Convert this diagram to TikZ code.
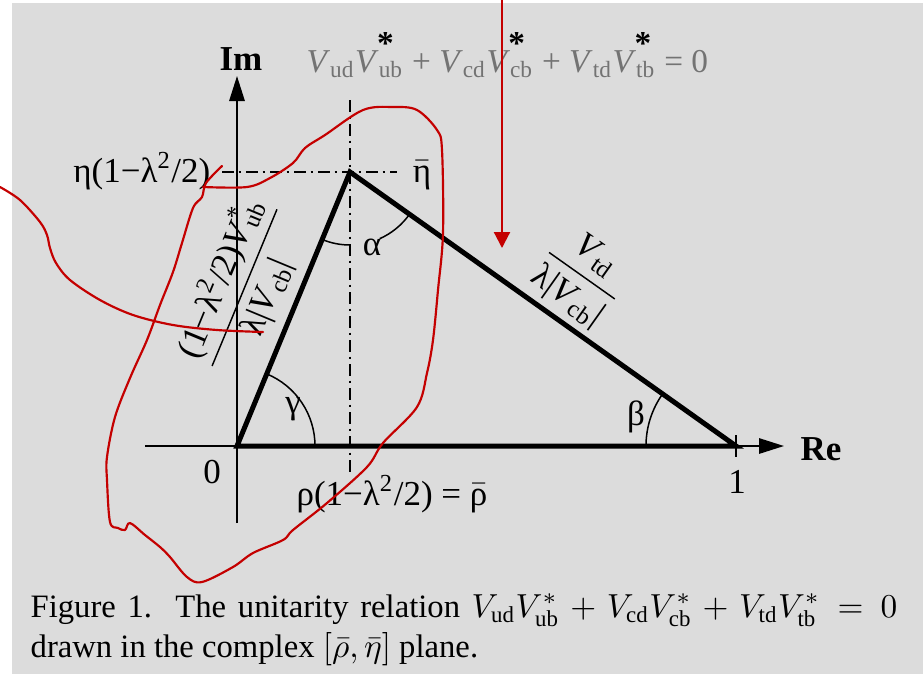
\documentclass[tikz,border=0pt]{standalone}
\usepackage{amsmath}
\usepackage{fontspec}
\setmainfont{Liberation Serif}
\usetikzlibrary{arrows.meta}
\definecolor{mygray}{RGB}{220,220,220}
\definecolor{mytext}{RGB}{115,115,115}
\definecolor{myred}{RGB}{196,0,0}
\newcommand{\vsub}[1]{\textit{V}\textsubscript{#1}}
\newcommand{\vconj}[1]{\textit{V}\rlap{\textsuperscript{*}}\textsubscript{#1}}
\newcommand{\vstar}[1]{\textit{V}\rlap{\kern-0.05em\raisebox{1.15ex}{\color{black}\bfseries *}}\textsubscript{#1}}

\begin{document}
\begin{tikzpicture}[
		x=0.3pt, y=-0.3pt,
		txt/.style={font=\fontsize{10.5}{12}\selectfont, inner sep=0pt},
		caption/.style={font=\fontsize{9.8}{12}\selectfont, inner sep=0pt, anchor=base west},
		axis/.style={line width=0.6pt, -{Triangle[length=7.5pt,width=4.6pt]}},
		side/.style={line width=1.5pt},
		guide/.style={line width=0.6pt, dash pattern=on 3.6pt off 1.4pt on 0.8pt off 1.4pt},
		angmark/.style={line width=0.45pt},
		marker/.style={myred, line width=0.65pt, line cap=round, line join=round}
		]
		
		% Frame
		\useasboundingbox (0,0) rectangle (923,674);
		\fill[mygray] (12,3) rectangle (923,674);
		
		% Points
		\coordinate (origin) at (237,446);
		\coordinate (apex) at (350,172);
		\coordinate (unit) at (736,446);
		\coordinate (reend) at (145,446);
		\coordinate (retip) at (784,446);
		\coordinate (imend) at (237,523);
		\coordinate (imtip) at (237,76);
		\coordinate (vtop) at (350,100);
		\coordinate (vbot) at (350,474);
		\coordinate (hleft) at (222,172);
		\coordinate (hright) at (397,172);
		
		% Axes and guides
		\draw[axis] (reend) -- (retip);
		\draw[axis] (imend) -- (imtip);
		\draw[guide] (vtop) -- (vbot);
		\draw[guide] (hleft) -- (hright);
		\draw[line width=0.6pt] (unit) ++(0,-11) -- ++(0,22);
		
		% Triangle
		\draw[side] (origin) -- (apex) -- (unit) -- cycle;
		
		% Angles
		\draw[angmark] (apex) ++(35.4:73) arc[start angle=35.4, end angle=66, radius=73];
		\draw[angmark] (apex) ++(90:73) arc[start angle=90, end angle=112.4, radius=73];
		\draw[angmark] (origin) ++(0:78) arc[start angle=0, end angle=-67.6, radius=78];
		\draw[angmark] (unit) ++(180:90) arc[start angle=180, end angle=215.4, radius=90];
		
		% Labels
		\node[txt, font=\fontsize{10.5}{12}\selectfont\bfseries, anchor=base] (im) at (241,70) {Im};
		\node[txt, font=\fontsize{10.5}{12}\selectfont\bfseries, anchor=base] (re) at (821,460) {Re};
		\node[txt, anchor=base] (zero) at (212,483) {0};
		\node[txt, anchor=base] (one) at (737,493) {1};
		\node[txt, anchor=base east] (etaval) at (211,182) {η(1−λ\textsuperscript{2}/2)};
		\node[txt, anchor=base] (etabar) at (422,182) {$\bar{\hbox{η}}$};
		\node[txt, anchor=base] (alpha) at (372,255) {α};
		\node[txt, anchor=base] (gamma) at (293,413) {γ};
		\node[txt, anchor=base] (beta) at (636,425) {β};
		\node[txt, anchor=base] (rhoval) at (392,505) {ρ(1−λ\textsuperscript{2}/2) = $\bar{\hbox{ρ}}$};
		\node[txt, font=\fontsize{10}{12}\selectfont, text=mytext, anchor=base west] (relation) at (306,72)
			{\vsub{ud}\vstar{ub} + \vsub{cd}\vstar{cb} + \vsub{td}\vstar{tb} = 0};
		\node[txt, rotate=67.5] (leftside) at (243,287)
			{$\dfrac{\hbox{(1−λ\textsuperscript{2}/2)\vconj{ub}}}{\hbox{λ|\vsub{cb}|}}$};
		\node[txt, rotate=-35.3] (rightside) at (581,277)
			{$\dfrac{\hbox{\vsub{td}}}{\hbox{λ|\vsub{cb}|}}$};
		
		% Caption
		\node[caption] (capone) at (30,617)
			{\makebox[260pt][s]{Figure 1.\ \ The unitarity relation $V_{\rm ud}V_{\rm ub}^{*}+V_{\rm cd}V_{\rm cb}^{*}+V_{\rm td}V_{\rm tb}^{*}=0$}};
		\node[caption] (captwo) at (30,657)
			{drawn in the complex $[\bar{\rho},\bar{\eta}]$ plane.};
		
		% Hand marks
		\coordinate (penstart) at (502,0);
		\coordinate (pentip) at (502,248);
		\draw[marker, -{Triangle[length=4.8pt,width=4.8pt]}] (penstart) -- (pentip);
		\draw[marker] plot[smooth, tension=0.55] coordinates {(222,166) (206,183) (202,197) (193,208) (182,243) (173,272) (160,305) (147,340) (130,378) (115,417) (107,457) (107,480) (110,522) (118,528) (125,530) (130,523) (145,535) (160,547) (170,557) (187,577) (202,582) (233,567) (253,553) (283,540) (293,530) (327,503) (367,467) (383,443) (417,407) (427,373) (433,340) (438,290) (443,233) (442,150) (437,130) (417,110) (393,107) (363,110) (325,135) (305,148) (293,163) (270,178) (247,187) (203,187)};
		\draw[marker] plot[smooth, tension=0.55] coordinates {(0,187) (20,200) (40,222) (47,235) (50,248) (56,263) (70,280) (100,300) (133,315) (173,325) (217,330) (263,332)};
		
	\end{tikzpicture}
\end{document}
